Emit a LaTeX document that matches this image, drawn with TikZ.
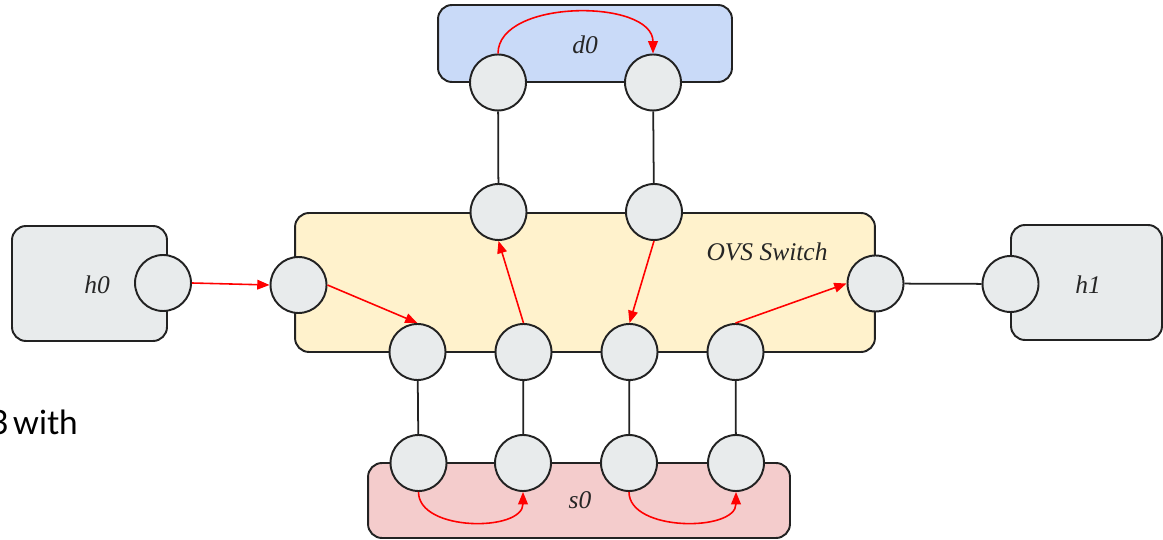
\documentclass[tikz,border=0pt]{standalone}
\usepackage{fontspec}
\setmainfont{Liberation Serif}
\newfontfamily\latofont{Lato}
\usetikzlibrary{arrows.meta}
\definecolor{edgec}{HTML}{222222}
\definecolor{portfill}{HTML}{E8EBEC}
\definecolor{swfill}{HTML}{FFF2CC}
\definecolor{dfill}{HTML}{C9DAF8}
\definecolor{sfill}{HTML}{F4CCCC}
\definecolor{flow}{HTML}{FF0000}
\tikzset{
  box/.style={draw=edgec, line width=1.1pt, rounded corners=0.28cm, inner sep=0pt},
  port/.style={circle, draw=edgec, fill=portfill, line width=1.1pt, minimum size=1.12cm, inner sep=0pt},
  lbl/.style={font=\fontsize{14.5}{16}\selectfont\itshape, text=black!85},
  wire/.style={draw=edgec, line width=1pt},
  flowarrow/.style={draw=flow, line width=0.9pt, -{Triangle[length=7pt,width=5.5pt]}},
}
\begin{document}
\begin{tikzpicture}[x=0.02cm,y=-0.02cm]
\useasboundingbox (0,0) rectangle (1163,540);
% boxes
\node[box, fill=portfill, minimum width=3.1cm, minimum height=2.3cm] (h0box) at (89.5,283.5) {};
\node[box, fill=portfill, minimum width=3.02cm, minimum height=2.3cm] (h1box) at (1086.5,282.5) {};
\node[box, fill=swfill, minimum width=11.6cm, minimum height=2.78cm] (sw) at (585,282.5) {};
\node[box, fill=dfill, minimum width=5.88cm, minimum height=1.54cm] (d0box) at (585,43.5) {};
\node[box, fill=sfill, minimum width=8.44cm, minimum height=1.5cm] (s0box) at (579,500.5) {};
% labels
\node[lbl] (h0lbl) at (97,285) {h0};
\node[lbl] (h1lbl) at (1088,285) {h1};
\node[lbl] (d0lbl) at (585,45) {d0};
\node[lbl] (s0lbl) at (580,500) {s0};
\node[lbl] (swlbl) at (767,252) {OVS Switch};
\node[font=\latofont\fontsize{19}{23}\selectfont, anchor=base east, inner sep=0pt] (partial) at (78,435) {3\hspace{0.12em}with};
% ports
\node[port] (h0p) at (163,283) {};
\node[port] (h1p) at (1010.5,284) {};
\node[port] (swl) at (298.5,285) {};
\node[port] (swr) at (875.5,283.5) {};
\node[port] (swt1) at (498.5,212) {};
\node[port] (swt2) at (654,212) {};
\node[port] (swb1) at (417.5,352) {};
\node[port] (swb2) at (523.5,352) {};
\node[port] (swb3) at (629.5,352) {};
\node[port] (swb4) at (735.5,352) {};
\node[port] (d0a) at (498,82.5) {};
\node[port] (d0b) at (653,82.5) {};
\node[port] (s0a) at (418.5,463) {};
\node[port] (s0b) at (523,463) {};
\node[port] (s0c) at (629,463) {};
\node[port] (s0d) at (736,463) {};
% wires
\draw[wire] (d0a) -- (swt1);
\draw[wire] (d0b) -- (swt2);
\draw[wire] (swb1) -- (s0a);
\draw[wire] (swb2) -- (s0b);
\draw[wire] (swb3) -- (s0c);
\draw[wire] (swb4) -- (s0d);
\draw[wire] (swr) -- (h1p);
% flows
\draw[flowarrow] (h0p.east) -- (swl.west);
\draw[flowarrow] (swl.east) -- (swb1.north);
\draw[flowarrow] (swb2.north) -- (swt1.south);
\draw[flowarrow] (swt2.south) -- (swb3.north);
\draw[flowarrow] (swb4.north) -- (swr.west);
\draw[flowarrow] (d0a.north) .. controls ([yshift=1.1cm]d0a.north) and ([yshift=1.1cm]d0b.north) .. (d0b.north);
\draw[flowarrow] (s0a.south) .. controls ([yshift=-0.8cm]s0a.south) and ([yshift=-0.8cm]s0b.south) .. (s0b.south);
\draw[flowarrow] (s0c.south) .. controls ([yshift=-0.8cm]s0c.south) and ([yshift=-0.8cm]s0d.south) .. (s0d.south);
\end{tikzpicture}
\end{document}
